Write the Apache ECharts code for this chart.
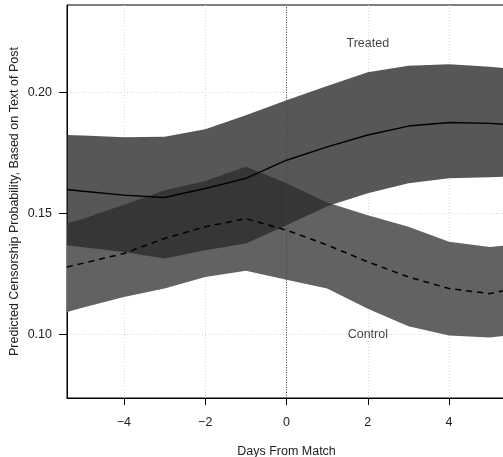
<!DOCTYPE html>
<html>
<head>
<meta charset="utf-8">
<script src="https://cdn.jsdelivr.net/npm/echarts@6/dist/echarts.min.js"></script>
<style>html,body{margin:0;padding:0;background:#fff}#c{width:503px;height:457px}</style>
</head>
<body>
<div id="c"></div>
<script>
var days = [-5.4, -5, -4, -3, -2, -1, 0, 1, 2, 3, 4, 5, 5.4];
var treatedFit   = [0.1599, 0.1592, 0.1576, 0.1566, 0.1603, 0.1645, 0.1720, 0.1775, 0.1824, 0.1861, 0.1876, 0.1872, 0.1868];
var treatedUpper = [0.1824, 0.1822, 0.1815, 0.1817, 0.1848, 0.1906, 0.1968, 0.2026, 0.2083, 0.2110, 0.2116, 0.2106, 0.2100];
var treatedLower = [0.1369, 0.1361, 0.1341, 0.1314, 0.1348, 0.1376, 0.1451, 0.1530, 0.1584, 0.1625, 0.1646, 0.1650, 0.1652];
var controlFit   = [0.1279, 0.1295, 0.1335, 0.1397, 0.1445, 0.1479, 0.1431, 0.1370, 0.1300, 0.1238, 0.1190, 0.1169, 0.1183];
var controlUpper = [0.1459, 0.1478, 0.1536, 0.1596, 0.1634, 0.1693, 0.1625, 0.1545, 0.1493, 0.1445, 0.1383, 0.1362, 0.1368];
var controlLower = [0.1093, 0.1112, 0.1155, 0.1190, 0.1238, 0.1263, 0.1226, 0.1190, 0.1107, 0.1034, 0.0996, 0.0988, 0.0996];
var xTicks = [-4, -2, 0, 2, 4];
var yTicks = [0.10, 0.15, 0.20];
var groupLabels = ['Treated', 'Control'];
var labelX = [2, 2];
var labelY = [0.22, 0.10];

function pairs(xs, ys) { return xs.map(function (x, i) { return [x, ys[i]]; }); }

function bandSeries(lo, hi, color, z) {
  // one data row per x: [x, lower, upper]; the polygon is drawn once, from all rows, via api.coord
  var rows = days.map(function (x, i) { return [x, lo[i], hi[i]]; });
  return {
    type: 'custom', z: z, silent: true, clip: true,
    data: rows,
    encode: {x: 0, y: [1, 2]},
    renderItem: function (params, api) {
      if (params.dataIndex !== 0) return null;
      var top = [], bot = [];
      for (var i = 0; i < rows.length; i++) {
        top.push(api.coord([rows[i][0], rows[i][2]]));
        bot.push(api.coord([rows[i][0], rows[i][1]]));
      }
      var pts = top.concat(bot.reverse());
      var cs = params.coordSys;
      return {
        type: 'polygon',
        shape: {points: pts},
        style: {fill: color, stroke: null},
        clipPath: {type: 'rect', shape: {x: cs.x, y: cs.y, width: cs.width, height: cs.height}}
      };
    }
  };
}

var font = 'Liberation Sans, Arial, Helvetica, sans-serif';
var fs = 12.5;
var chart = echarts.init(document.getElementById('c'), null, {renderer: 'canvas'});
chart.setOption({
  animation: false,
  grid: {left: 67, top: 5, width: 439, height: 393, outerBoundsMode: 'none', containLabel: false,
    show: true, borderColor: '#000', borderWidth: 1, backgroundColor: 'transparent'},
  xAxis: {
    type: 'value', min: -5.4, max: 5.4,
    name: 'Days From Match', nameLocation: 'middle', nameGap: 47.5, nameMoveOverlap: false,
    nameTextStyle: {fontFamily: font, fontSize: fs, color: '#222'},
    axisLine: {show: true, onZero: false, lineStyle: {color: '#000', width: 1}},
    axisTick: {show: true, length: 7, inside: false, customValues: xTicks, lineStyle: {color: '#000'}},
    axisLabel: {customValues: xTicks, margin: 18, fontFamily: font, fontSize: fs, color: '#222',
      formatter: function (v) { return v < 0 ? '\u2212' + Math.abs(v) : String(v); }},
    splitLine: {show: true, lineStyle: {color: '#d8d8d8', type: [1, 2], width: 1}}
  },
  yAxis: {
    type: 'value', min: 0.0738, max: 0.2361,
    name: 'Predicted Censorship Probability, Based on Text of Post', nameLocation: 'middle', nameGap: 46, nameMoveOverlap: false,
    nameTextStyle: {fontFamily: font, fontSize: fs, color: '#222'},
    axisLine: {show: true, onZero: false, lineStyle: {color: '#000', width: 1}},
    axisTick: {show: true, length: 8, customValues: yTicks, lineStyle: {color: '#000'}},
    axisLabel: {customValues: yTicks, margin: 15, fontFamily: font, fontSize: fs, color: '#222',
      formatter: function (v) { return v.toFixed(2); }},
    splitLine: {show: true, lineStyle: {color: '#d8d8d8', type: [1, 2], width: 1}}
  },
  series: [
    bandSeries(controlLower, controlUpper, '#626262', 2),
    bandSeries(treatedLower, treatedUpper, 'rgba(42,42,42,0.79)', 3),
    {type: 'line', data: pairs(days, controlFit), symbol: 'none', z: 5,
      lineStyle: {color: '#000', width: 1.5, type: [6, 5]},
      markLine: {silent: true, symbol: 'none', label: {show: false},
        lineStyle: {color: '#444', type: [1, 1.5], width: 1}, data: [{xAxis: 0}]}},
    {type: 'line', data: pairs(days, treatedFit), symbol: 'none', z: 5, lineStyle: {color: '#000', width: 1.4, type: 'solid'}},
    {type: 'scatter', symbolSize: 0, z: 6, silent: true,
      data: groupLabels.map(function (n, i) { return {name: n, value: [labelX[i], labelY[i]]}; }),
      label: {show: true, position: 'inside', formatter: '{b}', fontFamily: font, fontSize: fs, color: '#111'}}
  ]
});
</script>
</body>
</html>
